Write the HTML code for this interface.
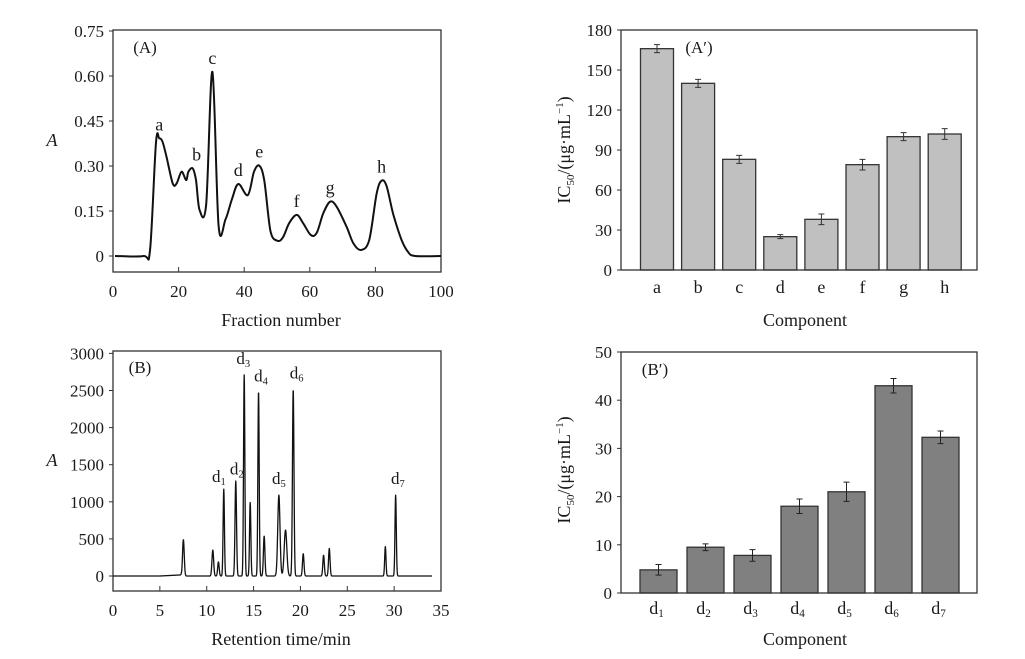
<!DOCTYPE html>
<html><head><meta charset="utf-8">
<style>
html,body{margin:0;padding:0;background:#fff;}
svg{display:block;font-family:"Liberation Serif",serif;}
text{fill:#1a1a1a;}
</style></head>
<body>
<svg id="fig" width="1025" height="659" viewBox="0 0 1025 659" xmlns="http://www.w3.org/2000/svg"></svg>
<script>
// Panel A data
const fracX=[0.6,9.3,11.3,13.1,14.1,15.1,16.3,18.2,19.4,20.9,22.3,23.0,24.3,25.3,26.4,28.4,30.3,32.2,34.3,36.2,38.2,41.1,43.0,44.6,46.1,48.0,50.1,51.8,53.7,56.0,58.0,60.3,62.1,64.1,66.2,68.2,71.2,73.3,75.6,78.1,80.4,81.9,83.4,85.5,88.0,90.0,92.1,100];
const fracA=[0,0,0.022,0.378,0.392,0.381,0.331,0.242,0.242,0.281,0.253,0.281,0.292,0.253,0.153,0.173,0.614,0.101,0.122,0.187,0.240,0.203,0.281,0.301,0.253,0.084,0.051,0.062,0.109,0.137,0.109,0.07,0.077,0.142,0.181,0.164,0.098,0.042,0.02,0.053,0.209,0.251,0.233,0.137,0.053,0.013,0,0];
const aTicks=[0,0.15,0.30,0.45,0.60,0.75];
const aTickLabels=["0","0.15","0.30","0.45","0.60","0.75"];
const aXTicks=[0,20,40,60,80,100];
const aPeakNames=["a","b","c","d","e","f","g","h"];
const aPeakX=[14.1,25.5,30.3,38.2,44.6,56.0,66.2,81.9];
const aPeakY=[0.392,0.292,0.614,0.240,0.301,0.137,0.181,0.251];
// Panel B data
const peakT=[7.51,10.65,11.25,11.82,13.1,14.0,14.64,15.53,16.13,17.7,18.41,19.23,20.3,22.47,23.08,29.06,30.16];
const peakH=[490,350,190,1170,1280,2710,990,2490,540,1090,620,2515,300,280,370,395,1090];
const peakW=[0.09,0.09,0.08,0.07,0.08,0.07,0.07,0.07,0.08,0.12,0.14,0.08,0.08,0.08,0.08,0.07,0.07];
const bTicks=[0,500,1000,1500,2000,2500,3000];
const bXTicks=[0,5,10,15,20,25,30,35];
const bLabelSub=["1","2","3","4","5","6","7"];
const bLabelT=[11.3,13.2,13.9,15.8,17.7,19.6,30.4];
const bLabelV=[1270,1370,2860,2620,1240,2660,1240];
// Panel A' data
const apCats=["a","b","c","d","e","f","g","h"];
const apVals=[166,140,83,25,38,79,100,102];
const apErr=[3,3,3,1.5,4,4,3,4];
const apTicks=[0,30,60,90,120,150,180];
// Panel B' data
const bpSubs=["1","2","3","4","5","6","7"];
const bpVals=[4.8,9.5,7.8,18,21,43,32.3];
const bpErr=[1.1,0.7,1.2,1.5,2,1.5,1.3];
const bpTicks=[0,10,20,30,40,50];

const NS="http://www.w3.org/2000/svg";
const svg=document.getElementById('fig');
function el(tag,attrs,parent){const e=document.createElementNS(NS,tag);for(const k in attrs)e.setAttribute(k,attrs[k]);(parent||svg).appendChild(e);return e;}
function txt(x,y,s,size,anchor,parent){const t=el('text',{x:x,y:y,'font-size':size,'text-anchor':anchor||'middle'},parent);t.textContent=s;return t;}
function dsub(x,y,sub,size,parent){const t=el('text',{x:x,y:y,'font-size':size,'text-anchor':'middle'},parent);t.appendChild(document.createTextNode('d'));const s=document.createElementNS(NS,'tspan');s.setAttribute('font-size',size*0.62);s.setAttribute('dy',3);s.textContent=sub;t.appendChild(s);return t;}
function smoothPath(P){let d='M'+P[0][0].toFixed(1)+','+P[0][1].toFixed(1);
 for(let i=0;i<P.length-1;i++){const p0=P[i-1]||P[i],p1=P[i],p2=P[i+1],p3=P[i+2]||p2;
  const c1=[p1[0]+(p2[0]-p0[0])/6,p1[1]+(p2[1]-p0[1])/6],c2=[p2[0]-(p3[0]-p1[0])/6,p2[1]-(p3[1]-p1[1])/6];
  d+=`C${c1[0].toFixed(1)},${c1[1].toFixed(1)} ${c2[0].toFixed(1)},${c2[1].toFixed(1)} ${p2[0].toFixed(1)},${p2[1].toFixed(1)}`;}
 return d;}

// ---------- Panel A ----------
{
const g=el('g',{});


const X0=113,X1=441,Ytop=30,Ybot=272;
const sx=v=>X0+(v-0)/100*(X1-X0);
const sy=v=>256-v/0.15*45;
const frame=el('rect',{x:X0,y:Ytop,width:X1-X0,height:Ybot-Ytop,fill:'none',stroke:'#333','stroke-width':1.3},g);


aTicks.forEach((v,i)=>{el('line',{x1:X0-4,x2:X0,y1:sy(v),y2:sy(v),stroke:'#333'},g);
 const t=txt(X0-9,sy(v)+6,aTickLabels[i],17,'end',g);});
aXTicks.forEach(v=>{el('line',{x1:sx(v),x2:sx(v),y1:Ybot,y2:Ybot-5,stroke:'#333'},g);
 const t=txt(sx(v),297,String(v),17,'middle',g);});
const P=fracX.map((x,i)=>[sx(x),sy(fracA[i])]);
const line=el('path',{d:smoothPath(P),fill:'none',stroke:'#111','stroke-width':2,'stroke-linejoin':'round'},g);


aPeakNames.forEach((n,i)=>{const t=txt(sx(aPeakX[i]),sy(aPeakY[i])-8,n,18,'middle',g);
 });
const pl=txt(145,53,'(A)',17,'middle',g);
const xt=txt(281,326,'Fraction number',18,'middle',g);
const yt=txt(52,146,'A',18,'middle',g);yt.setAttribute('font-style','italic');
}

// ---------- Panel B ----------
{
const g=el('g',{});


const X0=113,X1=441,Ytop=351,Ybot=591;
const sx=v=>X0+v/35*(X1-X0);
const sy=v=>576-v/500*37.1;
const frame=el('rect',{x:X0,y:Ytop,width:X1-X0,height:Ybot-Ytop,fill:'none',stroke:'#333','stroke-width':1.3},g);


bTicks.forEach(v=>{el('line',{x1:X0-4,x2:X0,y1:sy(v),y2:sy(v),stroke:'#333'},g);
 const t=txt(X0-9,sy(v)+6,String(v),17,'end',g);});
bXTicks.forEach(v=>{el('line',{x1:sx(v),x2:sx(v),y1:Ybot,y2:Ybot-5,stroke:'#333'},g);
 const t=txt(sx(v),616,String(v),17,'middle',g);});
const pts=[];
for(let t=0;t<=34.05;t+=0.02){let v=0;
 if(t>5&&t<7.3)v+=15*(t-5)/2.3;
 for(let i=0;i<peakT.length;i++){const d=(t-peakT[i])/peakW[i];if(Math.abs(d)<6)v+=peakH[i]*Math.exp(-0.5*d*d);}
 pts.push(sx(t).toFixed(2)+','+sy(v).toFixed(2));}
const line=el('polyline',{points:pts.join(' '),fill:'none',stroke:'#111','stroke-width':1.3,'stroke-linejoin':'round'},g);


bLabelSub.forEach((s,i)=>{const t=dsub(sx(bLabelT[i]),sy(bLabelV[i]),s,17,g);
 });
const pl=txt(140,373,'(B)',17,'middle',g);
const xt=txt(281,645,'Retention time/min',18,'middle',g);
const yt=txt(52,466,'A',18,'middle',g);yt.setAttribute('font-style','italic');
}

function ylabel(g,x,y){
 const t=el('text',{x:0,y:0,'font-size':18,'text-anchor':'middle',transform:`translate(${x},${y}) rotate(-90)`},g);
 t.appendChild(document.createTextNode('IC'));
 const s=document.createElementNS(NS,'tspan');s.setAttribute('font-size',11);s.setAttribute('dy',4);s.textContent='50';t.appendChild(s);
 const r=document.createElementNS(NS,'tspan');r.setAttribute('dy',-4);r.textContent='/(μg·mL';t.appendChild(r);
 const p=document.createElementNS(NS,'tspan');p.setAttribute('font-size',11);p.setAttribute('dy',-7);p.textContent='−1';t.appendChild(p);
 const q=document.createElementNS(NS,'tspan');q.setAttribute('dy',7);q.textContent=')';t.appendChild(q);
 
 
}

// ---------- Panel A' ----------
{
const g=el('g',{});


const X0=621,X1=977,Ytop=30,Ybot=270;
const sy=v=>Ybot-v/180*(Ybot-Ytop);
const cx=i=>657+i*41.1;
const bw=33;
apTicks.forEach(v=>{el('line',{x1:X0-4,x2:X0,y1:sy(v),y2:sy(v),stroke:'#333'},g);
 const t=txt(X0-9,sy(v)+6,String(v),17,'end',g);});
apCats.forEach((c,i)=>{
 const r=el('rect',{x:cx(i)-bw/2,y:sy(apVals[i]),width:bw,height:sy(0)-sy(apVals[i]),fill:'#c0c0c0',stroke:'#333','stroke-width':1.3},g);
 
 const e=el('path',{d:`M${cx(i)},${sy(apVals[i]+apErr[i])}V${sy(apVals[i]-apErr[i])}M${cx(i)-3},${sy(apVals[i]+apErr[i])}h6M${cx(i)-3},${sy(apVals[i]-apErr[i])}h6`,stroke:'#333',fill:'none','stroke-width':1},g);
 
 const t=txt(cx(i),293,c,18,'middle',g);});
const frame=el('rect',{x:X0,y:Ytop,width:X1-X0,height:Ybot-Ytop,fill:'none',stroke:'#333','stroke-width':1.3},g);


const pl=txt(699,53,"(A′)",17,'middle',g);
const xt=txt(805,326,'Component',18,'middle',g);
ylabel(g,570,150);
}

// ---------- Panel B' ----------
{
const g=el('g',{});


const X0=621,X1=977,Ytop=352,Ybot=593;
const sy=v=>Ybot-v/50*(Ybot-Ytop);
const cx=i=>658.5+i*47;
const bw=37;
bpTicks.forEach(v=>{el('line',{x1:X0-4,x2:X0,y1:sy(v),y2:sy(v),stroke:'#333'},g);
 const t=txt(X0-9,sy(v)+6,String(v),17,'end',g);});
bpSubs.forEach((s,i)=>{
 const r=el('rect',{x:cx(i)-bw/2,y:sy(bpVals[i]),width:bw,height:sy(0)-sy(bpVals[i]),fill:'#808080',stroke:'#333','stroke-width':1.3},g);
 
 const e=el('path',{d:`M${cx(i)},${sy(bpVals[i]+bpErr[i])}V${sy(bpVals[i]-bpErr[i])}M${cx(i)-3},${sy(bpVals[i]+bpErr[i])}h6M${cx(i)-3},${sy(bpVals[i]-bpErr[i])}h6`,stroke:'#222',fill:'none','stroke-width':1},g);
 
 const t=dsub(cx(i)-2,614,s,18,g);});
const frame=el('rect',{x:X0,y:Ytop,width:X1-X0,height:Ybot-Ytop,fill:'none',stroke:'#333','stroke-width':1.3},g);


const pl=txt(655,375,"(B′)",17,'middle',g);
const xt=txt(805,645,'Component',18,'middle',g);
ylabel(g,570,470);
}
</script>
</body></html>
